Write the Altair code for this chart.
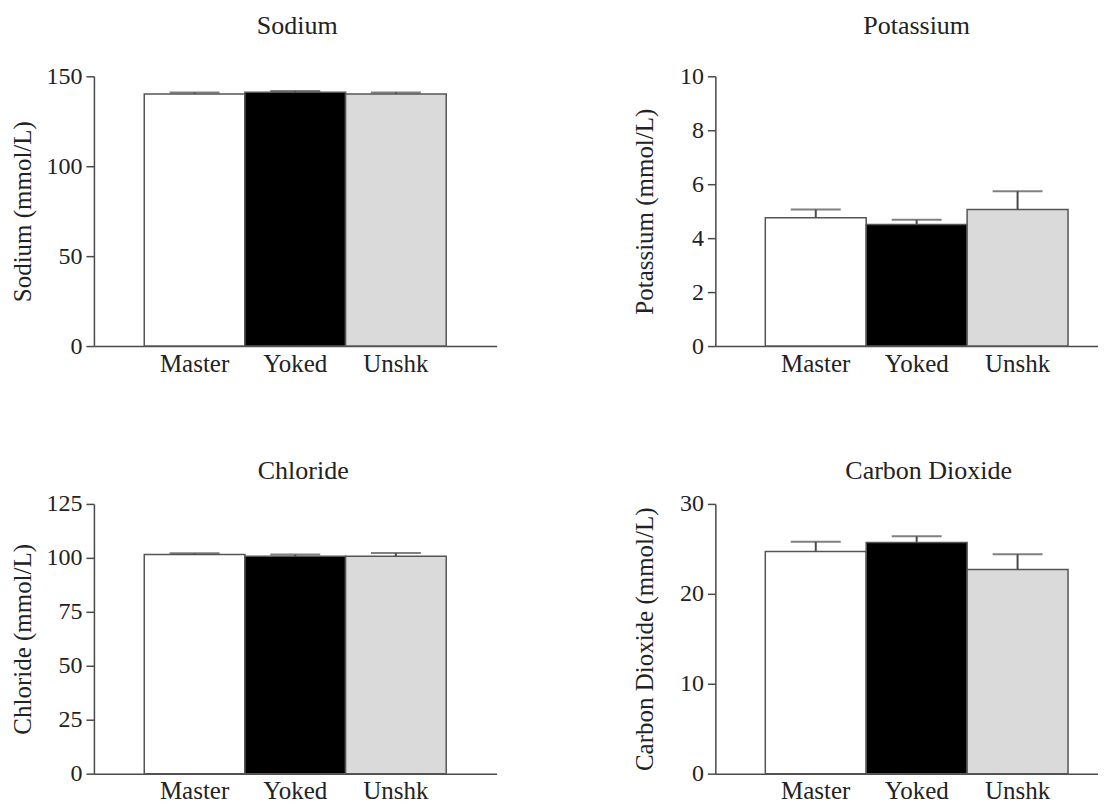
import altair as alt
import pandas as pd

groups = ["Master", "Yoked", "Unshk"]
bar_colors = ["#ffffff", "#000000", "#d9dad9"]

sodium_mean = [140.2, 141.1, 140.2]
sodium_sem = [0.8, 0.7, 0.8]
potassium_mean = [4.76, 4.51, 5.06]
potassium_sem = [0.30, 0.17, 0.68]
chloride_mean = [101.5, 100.7, 100.7]
chloride_sem = [0.6, 0.8, 1.5]
co2_mean = [24.7, 25.7, 22.7]
co2_sem = [1.1, 0.7, 1.7]

sodium_ticks = [0, 50, 100, 150]
potassium_ticks = [0, 2, 4, 6, 8, 10]
chloride_ticks = [0, 25, 50, 75, 100, 125]
co2_ticks = [0, 10, 20, 30]

FONT = "Liberation Serif"
INK = "#222222"
LINE = "#4a4a4a"


def panel(title, ytitle, means, sems, ticks, width, pad_outer, align, dx, toff):
    df = pd.DataFrame({
        "group": groups,
        "mean": means,
        "upper": [m + s for m, s in zip(means, sems)],
    })
    xenc = alt.X(
        "group:N", sort=groups,
        scale=alt.Scale(paddingInner=0, paddingOuter=pad_outer, align=align),
        axis=alt.Axis(title=None, ticks=False, tickSize=0, labelAngle=0,
                      labelFont=FONT, labelFontSize=25, labelColor=INK,
                      labelPadding=5, domainColor=LINE, domainWidth=1.5),
    )
    yscale = alt.Scale(domain=[ticks[0], ticks[-1]], nice=False, zero=True)
    yaxis = alt.Axis(title=ytitle, values=ticks, grid=False, tickSize=8,
                     labelPadding=4, labelFont=FONT, labelFontSize=24,
                     labelColor=INK, titleFont=FONT, titleFontSize=25,
                     titleFontWeight="normal", titleColor=INK, titlePadding=8,
                     minExtent=50, maxExtent=50, domainColor=LINE,
                     tickColor=LINE, domainWidth=1.5, tickWidth=1.5)
    base = alt.Chart(df)
    bars = base.mark_bar(stroke="#555555", strokeWidth=1.5).encode(
        x=xenc,
        y=alt.Y("mean:Q", scale=yscale, axis=yaxis),
        color=alt.Color("group:N", scale=alt.Scale(domain=groups, range=bar_colors), legend=None),
    )
    err = base.mark_rule(color=LINE, strokeWidth=2).encode(
        x=alt.X("group:N", sort=groups),
        y="mean:Q", y2="upper:Q",
    )
    cap = base.mark_tick(color=LINE, thickness=2, size=50).encode(
        x=alt.X("group:N", sort=groups),
        y="upper:Q",
    )
    return alt.layer(bars, err, cap).properties(
        width=width, height=270,
        title=alt.TitleParams(title, font=FONT, fontSize=26, fontWeight="normal",
                              color=INK, anchor="middle", frame="group",
                              offset=toff, dx=dx),
    )


p1 = panel("Sodium", "Sodium (mmol/L)", sodium_mean, sodium_sem, sodium_ticks, 403, 0.5, 0.5, 2, 25)
p2 = panel("Potassium", "Potassium (mmol/L)", potassium_mean, potassium_sem, potassium_ticks, 383, 0.396, 0.625, 10, 25)
p3 = panel("Chloride", "Chloride (mmol/L)", chloride_mean, chloride_sem, chloride_ticks, 403, 0.5, 0.5, 8, 8)
p4 = panel("Carbon Dioxide", "Carbon Dioxide (mmol/L)", co2_mean, co2_sem, co2_ticks, 383, 0.396, 0.625, 22, 8)

chart = alt.concat(p1, p2, p3, p4, columns=2, spacing={"row": 82, "column": 135}).properties(
    padding={"left": 3, "top": 5, "right": 0, "bottom": 0},
    background="white",
).configure_view(stroke=None)

chart.save("out.html", embed_options={"renderer": "svg", "actions": False})
